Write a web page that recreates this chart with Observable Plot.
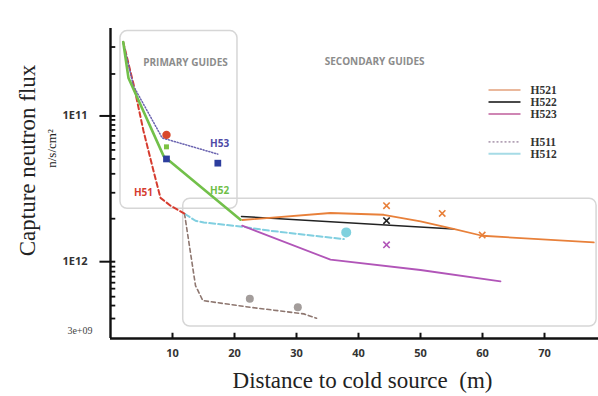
<!DOCTYPE html>
<html>
<head>
<meta charset="utf-8">
<script src="https://cdn.jsdelivr.net/npm/d3@7"></script>
<script src="https://cdn.jsdelivr.net/npm/@observablehq/plot@0.6"></script>
<style>
  html, body { margin: 0; padding: 0; background: #fff; }
  #chart svg { display: block; }
</style>
</head>
<body>
<div id="chart"></div>
<script>
// ---- data (x: distance in m, y: position on the chart's flux axis) ----
const H51 = [[2.05,10.493],[3.71,10.781],[5.32,11.103],[6.94,11.377],[8.06,11.562],[9.68,11.616],[11.94,11.671]];
const H52 = [[2.05,10.493],[2.90,10.740],[8.55,11.274],[20.97,11.712]];
const H53 = [[2.05,10.493],[3.71,10.795],[8.34,11.151],[17.31,11.262]];
const H511 = [[11.94,11.671],[13.71,12.164],[14.89,12.267],[22.58,12.313],[31.18,12.358],[33.23,12.388]];
const H512 = [[11.94,11.671],[13.71,11.719],[15.05,11.731],[21.24,11.760],[25.81,11.788],[37.63,11.845]];
const H521 = [[21.24,11.714],[35.48,11.666],[44.08,11.678],[50.0,11.724],[55.32,11.774],[59.95,11.822],[77.95,11.868]];
const H522 = [[21.13,11.690],[55.37,11.776]];
const H523 = [[21.24,11.753],[35.48,11.986],[50.0,12.057],[62.9,12.135]];

const ptRed = [[9.03,11.130]];
const ptGreen = [[9.03,11.212]];
const ptBlue = [[9.03,11.295],[17.31,11.324]];
const ptGray = [[22.47,12.255],[30.21,12.313]];
const ptCyan = [[38.02,11.799]];
const ptOrangeX = [[44.52,11.616],[53.5,11.669],[59.95,11.817]];
const ptBlackX = [[44.52,11.719]];
const ptMagentaX = [[44.52,11.884]];

const xTicks = [10,20,30,40,50,60,70];
const yMajorTicks = [11, 12];
const yMajorLabels = ["1E11", "1E12"];
const yMinorTicks = [10.527,10.712,11.027,11.062,11.096,11.137,11.185,11.233,11.295,11.397,11.527,11.705,
                     12.034,12.068,12.103,12.144,12.185,12.240,12.301,12.390];
const yBottomLabel = "3e+09";
const yBottomLabelPos = 12.473;

const guideLabels = [
  {text: "H51", x: 5.32, y: 11.527, color: "#d63c2f"},
  {text: "H52", x: 17.6, y: 11.514, color: "#6fbf48"},
  {text: "H53", x: 17.6, y: 11.192, color: "#4e4aa6"}
];
const regionLabels = [
  {text: "PRIMARY GUIDES", x: 12.1, y: 10.637},
  {text: "SECONDARY GUIDES", x: 42.6, y: 10.630}
];
const regionBoxes = [
  {x1: 1.61, x2: 20.48, y1: 10.418, y2: 11.637},
  {x1: 11.73, x2: 78.4, y1: 11.568, y2: 12.445}
];

const legendNames = ["H521","H522","H523","H511","H512"];
const legendColors = ["#eab89c","#4a4a4a","#cf86b4","#b3a2b6","#a6dbe6"];
const legendDash = [null, null, null, "2,2", null];
const legendY = [10.822,10.904,10.986,11.178,11.260];
const legendX1 = 60.97, legendX2 = 66.13, legendTextX = 67.74;

const yTop = 10.40, yBottom = 12.527;
const xMax = 78.71;

const px = d => d[0], py = d => d[1];
const serif = "Liberation Serif, Times New Roman, serif";
const sans = "Open Sans, Lato, sans-serif";

const chart = Plot.plot({
  width: 598,
  height: 396,
  marginLeft: 110,
  marginRight: 0,
  marginTop: 28,
  marginBottom: 58,
  x: {domain: [0, xMax], axis: null},
  y: {domain: [yBottom, yTop], axis: null},
  style: {background: "#fff", fontFamily: sans},
  marks: [
    // region boxes
    Plot.rect(regionBoxes, {x1: "x1", x2: "x2", y1: "y1", y2: "y2", fill: "none",
      stroke: "#d6d6d6", strokeWidth: 1.5, rx: 7}),
    Plot.text(regionLabels, {x: "x", y: "y", text: "text", fill: "#8c8c8c",
      fontWeight: "bold", fontSize: 10, fontFamily: sans}),

    // lines
    Plot.line(H511, {x: px, y: py, stroke: "#8e7770", strokeWidth: 1.6, strokeDasharray: "4,3"}),
    Plot.line(H512, {x: px, y: py, stroke: "#80cfe0", strokeWidth: 2, strokeDasharray: "6,3"}),
    Plot.line(H523, {x: px, y: py, stroke: "#b155b8", strokeWidth: 1.8}),
    Plot.line(H522, {x: px, y: py, stroke: "#222", strokeWidth: 1.5}),
    Plot.line(H521, {x: px, y: py, stroke: "#e8803a", strokeWidth: 1.8}),
    Plot.line(H51, {x: px, y: py, stroke: "#d63c2f", strokeWidth: 2, strokeDasharray: "5,3"}),
    Plot.line(H53, {x: px, y: py, stroke: "#6b64b0", strokeWidth: 1.5, strokeDasharray: "1.2,1.8"}),
    Plot.line(H52, {x: px, y: py, stroke: "#72c04a", strokeWidth: 2.6}),

    // markers
    Plot.dot(ptRed, {x: px, y: py, r: 4.2, fill: "#d9472b"}),
    Plot.dot(ptGreen, {x: px, y: py, r: 2.8, symbol: "square", fill: "#7dc242"}),
    Plot.dot(ptBlue, {x: px, y: py, r: 3.8, symbol: "square", fill: "#2d3e9e"}),
    Plot.dot(ptGray, {x: px, y: py, r: 4, fill: "#a39d9b"}),
    Plot.dot(ptCyan, {x: px, y: py, r: 5, fill: "#7fd1de"}),
    Plot.dot(ptOrangeX, {x: px, y: py, r: 3, symbol: "times", stroke: "#e8803a", strokeWidth: 1.6}),
    Plot.dot(ptBlackX, {x: px, y: py, r: 3, symbol: "times", stroke: "#222", strokeWidth: 1.6}),
    Plot.dot(ptMagentaX, {x: px, y: py, r: 3, symbol: "times", stroke: "#b155b8", strokeWidth: 1.6}),

    // guide labels
    Plot.text(guideLabels, {x: "x", y: "y", text: "text", fill: "color",
      fontWeight: "bold", fontSize: 10, fontFamily: sans}),

    // legend
    Plot.link(legendNames.map((n, i) => i).filter(i => !legendDash[i]), {
      x1: () => legendX1, x2: () => legendX2, y1: i => legendY[i], y2: i => legendY[i],
      stroke: i => legendColors[i], strokeWidth: 2}),
    Plot.link(legendNames.map((n, i) => i).filter(i => legendDash[i]), {
      x1: () => legendX1, x2: () => legendX2, y1: i => legendY[i], y2: i => legendY[i],
      stroke: i => legendColors[i], strokeWidth: 1.6, strokeDasharray: "2,2"}),
    Plot.text(legendNames, {x: () => legendTextX, y: (d, i) => legendY[i], text: d => d,
      textAnchor: "start", fill: "#333", fontSize: 11.5, fontWeight: "bold", fontFamily: serif}),

    // axes
    Plot.ruleY(yMinorTicks, {y: d => d, x1: 0, x2: 0.85, stroke: "#111", strokeWidth: 1.8}),
    Plot.ruleY(yMajorTicks, {y: d => d, x1: -1.7, x2: 0.85, stroke: "#111", strokeWidth: 2}),
    Plot.ruleX(xTicks, {x: d => d, y1: yBottom, y2: yBottom - 0.036, stroke: "#111", strokeWidth: 2}),
    Plot.ruleX([0], {y1: yBottom, y2: yTop, stroke: "#111", strokeWidth: 2.4}),
    Plot.ruleY([yBottom], {x1: 0, x2: xMax, stroke: "#111", strokeWidth: 2.6}),
    Plot.text(yMajorTicks, {x: 0, y: d => d, text: (d, i) => yMajorLabels[i], dx: -23,
      textAnchor: "end", fontWeight: "bold", fontSize: 11, fill: "#333", fontFamily: sans}),
    Plot.text([yBottomLabel], {x: 0, y: () => yBottomLabelPos, text: d => d, dx: -18,
      textAnchor: "end", fontSize: 10, fill: "#444", fontFamily: serif}),
    Plot.text(xTicks, {x: d => d, y: yBottom, text: d => String(d), dy: 15,
      fontWeight: "bold", fontSize: 11, fill: "#333", fontFamily: sans}),

    // axis titles
    Plot.text(["Capture neutron flux"], {frameAnchor: "left", text: d => d, rotate: -90,
      textAnchor: "middle", lineAnchor: "middle",
      dx: -83, dy: -23, fontSize: 23, fill: "#222", fontFamily: serif}),
    Plot.text(["n/s/cm²"], {frameAnchor: "left", text: d => d, rotate: -90,
      textAnchor: "middle", lineAnchor: "middle",
      dx: -59, dy: -35, fontSize: 13, fill: "#222", fontFamily: serif}),
    Plot.text(["Distance to cold source  (m)"], {frameAnchor: "bottom", text: d => d,
      dx: 8, dy: 49, fontSize: 23, fill: "#222", fontFamily: serif})
  ]
});
document.getElementById("chart").appendChild(chart);
</script>
</body>
</html>
